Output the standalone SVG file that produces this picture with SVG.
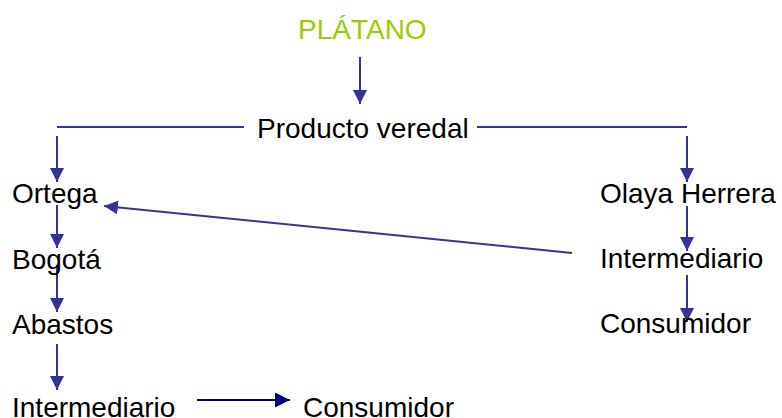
<svg xmlns="http://www.w3.org/2000/svg" width="782" height="418" viewBox="0 0 782 418">
<style>
text{font-family:"Liberation Sans",Arial,sans-serif;font-size:28px;fill:#000}
.title{fill:#99CC00}
.c{stroke:#333399;stroke-width:2;fill:none}
.n{stroke:#000080;stroke-width:2;fill:none}
</style>
<defs>
<marker id="a" viewBox="0 0 10 10" refX="10" refY="5" markerWidth="7" markerHeight="7" orient="auto" markerUnits="strokeWidth"><path d="M0,0L10,5L0,10z" fill="#333399"/></marker>
<marker id="b" viewBox="0 0 10 10" refX="10" refY="5" markerWidth="7.5" markerHeight="7.5" orient="auto" markerUnits="strokeWidth"><path d="M0,0L10,5L0,10z" fill="#000080"/></marker>
</defs>
<rect width="782" height="418" fill="#fff"/>
<g id="connectors">
<line class="c" x1="360" y1="57" x2="360" y2="104" marker-end="url(#a)"/>
<line class="c" x1="57" y1="127" x2="244" y2="127"/>
<line class="c" x1="57" y1="136" x2="57" y2="182" marker-end="url(#a)"/>
<line class="c" x1="477" y1="127" x2="687" y2="127"/>
<line class="c" x1="687" y1="136" x2="687" y2="182" marker-end="url(#a)"/>
<line class="c" x1="687" y1="206" x2="687" y2="251" marker-end="url(#a)"/>
<line class="c" x1="687" y1="275" x2="687" y2="322" marker-end="url(#a)"/>
<line class="c" x1="57" y1="205" x2="57" y2="248" marker-end="url(#a)"/>
<line class="c" x1="57" y1="265" x2="57" y2="312" marker-end="url(#a)"/>
<line class="c" x1="57" y1="344" x2="57" y2="390" marker-end="url(#a)"/>
<line class="c" x1="572" y1="253" x2="104" y2="206" marker-end="url(#a)"/>
<line class="n" x1="197" y1="400" x2="290" y2="400" marker-end="url(#b)"/>
</g>
<g id="platano"><text class="title" x="298" y="39">PLÁTANO</text></g>
<g id="producto-veredal"><text x="257" y="138">Producto veredal</text></g>
<g id="ortega"><text x="12" y="203">Ortega</text></g>
<g id="bogota"><text x="12" y="269">Bogotá</text></g>
<g id="abastos"><text x="12" y="334">Abastos</text></g>
<g id="intermediario-1"><text x="12" y="417">Intermediario</text></g>
<g id="consumidor-1"><text x="303" y="417">Consumidor</text></g>
<g id="olaya-herrera"><text x="600" y="203">Olaya Herrera</text></g>
<g id="intermediario-2"><text x="600" y="268">Intermediario</text></g>
<g id="consumidor-2"><text x="600" y="333">Consumidor</text></g>
</svg>
